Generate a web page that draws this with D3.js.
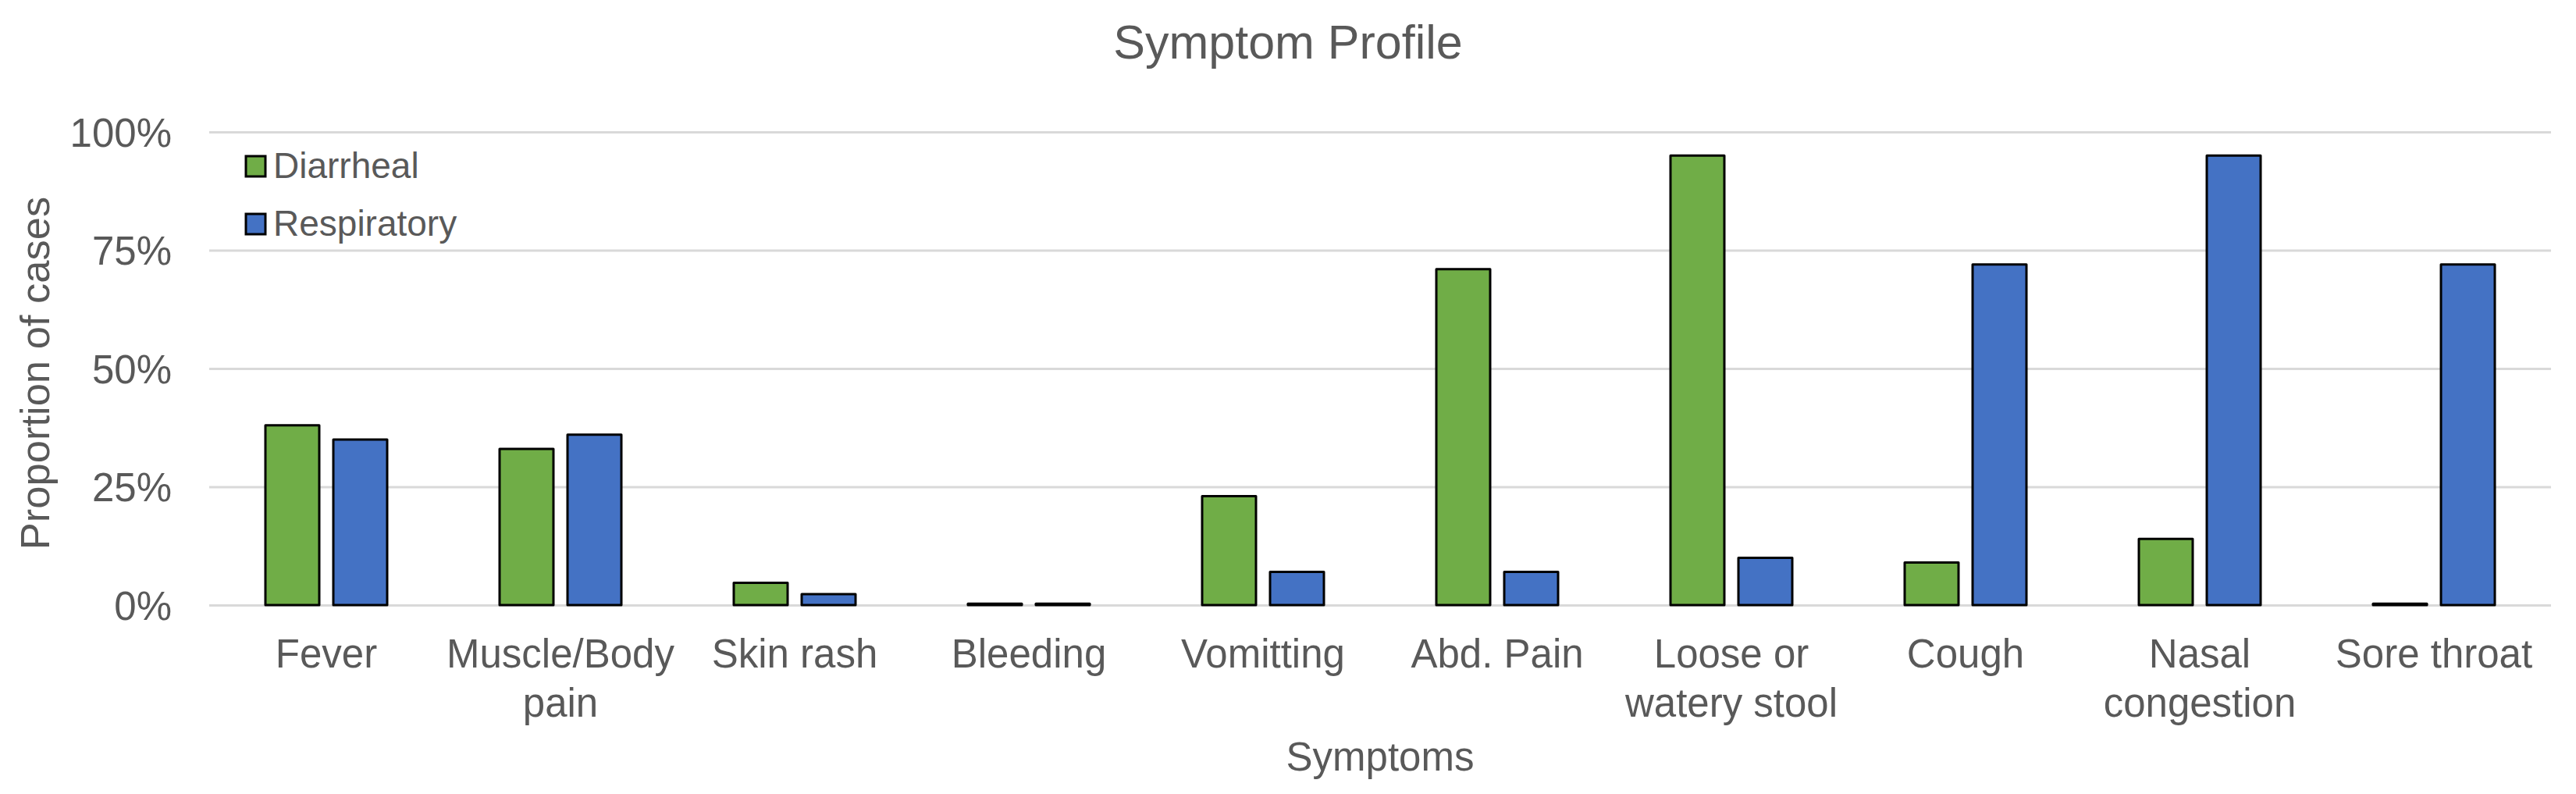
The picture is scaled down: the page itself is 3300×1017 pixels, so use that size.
<!DOCTYPE html>
<html>
<head>
<meta charset="utf-8">
<script src="https://cdn.jsdelivr.net/npm/d3@7"></script>
<style>
  html, body { margin: 0; padding: 0; background: #ffffff; }
  svg { display: block; }
  text { font-family: "Liberation Sans", Arial, sans-serif; fill: #595959; }
</style>
</head>
<body>
<svg id="chart" width="3300" height="1017"></svg>
<script>
// ---- data ----
const categories = ["Fever", "Muscle/Body pain", "Skin rash", "Bleeding", "Vomitting",
  "Abd. Pain", "Loose or watery stool", "Cough", "Nasal congestion", "Sore throat"];
const seriesNames = ["Diarrheal", "Respiratory"];
const diarrheal   = [38, 33, 4.7, 0.3, 23, 71, 95, 9, 14, 0.3];
const respiratory = [35, 36, 2.3, 0.3, 7, 7, 10, 72, 95, 72];
const yTicks = [0, 25, 50, 75, 100];
const seriesColors = ["#70AD47", "#4472C4"];
const titleText = "Symptom Profile";
const xTitle = "Symptoms";
const yTitle = "Proportion of cases";

// ---- layout ----
const W = 3300, H = 1017;
const plot = { left: 268, right: 3268, top: 169, bottom: 775 };
const svg = d3.select("#chart");

const x0 = d3.scaleBand().domain(categories).range([plot.left, plot.right]).paddingInner(0).paddingOuter(0);
const x1 = d3.scaleBand().domain(seriesNames).range([72, 228]).paddingInner(0.207).paddingOuter(0);
const y = d3.scaleLinear().domain([0, 100]).range([plot.bottom, plot.top]);

// gridlines + y labels via axis
const yAxis = d3.axisLeft(y).tickValues(yTicks).tickFormat(d => d + "%")
  .tickSize(-(plot.right - plot.left)).tickPadding(48);
const gy = svg.append("g").attr("transform", `translate(${plot.left},0)`).call(yAxis);
gy.select(".domain").remove();
gy.selectAll(".tick line").attr("stroke", "#D9D9D9").attr("stroke-width", 3);
gy.selectAll(".tick text").attr("font-size", 51).attr("fill", "#595959")
  .attr("font-family", '"Liberation Sans", Arial, sans-serif').attr("dy", "0.36em");

// bars
const rows = categories.map((c, i) => ({ cat: c, vals: [diarrheal[i], respiratory[i]] }));
const groups = svg.append("g").selectAll("g").data(rows).join("g")
  .attr("transform", d => `translate(${x0(d.cat)},0)`);
groups.selectAll("rect").data(d => d.vals.map((v, k) => ({ s: seriesNames[k], v, k })))
  .join("rect")
  .attr("x", d => x1(d.s))
  .attr("width", x1.bandwidth())
  .attr("y", d => y(d.v))
  .attr("height", d => y(0) - y(d.v))
  .attr("fill", d => seriesColors[d.k])
  .attr("stroke", "#000")
  .attr("stroke-width", 3)
  .attr("stroke-linejoin", "round");

// x category labels (wrapped to band width)
const xAxis = d3.axisBottom(x0).tickSize(0).tickPadding(0);
const gx = svg.append("g").attr("transform", `translate(0,${plot.bottom})`).call(xAxis);
gx.select(".domain").remove();
gx.selectAll(".tick text").attr("font-size", 51).attr("fill", "#595959")
  .attr("font-family", '"Liberation Sans", Arial, sans-serif')
  .each(function (d) {
    const t = d3.select(this);
    const words = d.split(" ");
    t.text(null).attr("y", 0).attr("dy", null);
    const maxW = 292;
    let lines = [], cur = [];
    const tmp = t.append("tspan");
    words.forEach(w => {
      const test = cur.concat([w]).join(" ");
      tmp.text(test);
      if (tmp.node().getComputedTextLength() > maxW && cur.length) {
        lines.push(cur.join(" "));
        cur = [w];
      } else cur.push(w);
    });
    lines.push(cur.join(" "));
    tmp.remove();
    lines.forEach((ln, i) => {
      t.append("tspan").attr("x", 0).attr("y", 80 + i * 63).text(ln);
    });
  });

// title
svg.append("text").attr("x", W / 2).attr("y", 75).attr("text-anchor", "middle")
  .attr("font-size", 61).text(titleText);

// axis titles
svg.append("text").attr("x", (plot.left + plot.right) / 2).attr("y", 987)
  .attr("text-anchor", "middle").attr("font-size", 51).text(xTitle);
svg.append("text").attr("transform", `translate(63,${(plot.top + plot.bottom) / 2 + 6}) rotate(-90)`)
  .attr("text-anchor", "middle").attr("font-size", 52.5).text(yTitle);

// legend
const leg = svg.append("g").attr("transform", "translate(315,200)");
const li = leg.selectAll("g").data(seriesNames).join("g")
  .attr("transform", (d, i) => `translate(0,${i * 74})`);
li.append("rect").attr("width", 25).attr("height", 26)
  .attr("fill", (d, i) => seriesColors[i]).attr("stroke", "#000").attr("stroke-width", 3);
li.append("text").attr("x", 35).attr("y", 28).attr("font-size", 46).text(d => d);
</script>
</body>
</html>
